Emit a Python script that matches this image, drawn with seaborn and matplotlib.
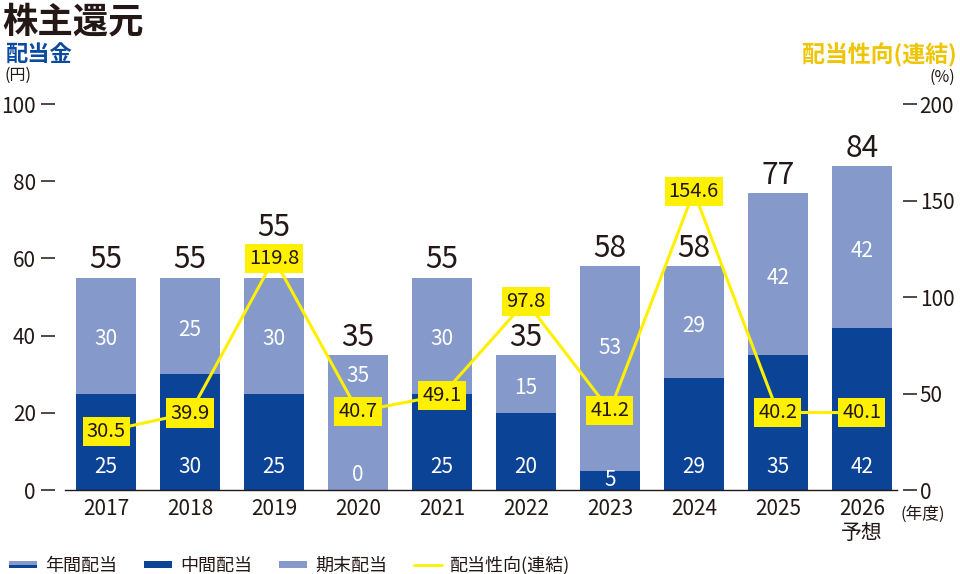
"""
株主還元 - 配当金と配当性向（連結）の推移
"""

import numpy as np
import matplotlib
matplotlib.use('Agg')
import matplotlib.pyplot as plt
import seaborn as sns
from matplotlib.patches import Rectangle
from matplotlib.lines import Line2D
from matplotlib.legend_handler import HandlerBase

# Data
years = ['2017', '2018', '2019', '2020', '2021', '2022', '2023', '2024', '2025', '2026\n予想']
interim = [25, 30, 25, 0, 25, 20, 5, 29, 35, 42]        # 中間配当
year_end = [30, 25, 30, 35, 30, 15, 53, 29, 42, 42]     # 期末配当
totals = [55, 55, 55, 35, 55, 35, 58, 58, 77, 84]       # 年間配当
payout = [30.5, 39.9, 119.8, 40.7, 49.1, 97.8, 41.2, 154.6, 40.2, 40.1]  # 配当性向(連結)
left_ticks = [0, 20, 40, 60, 80, 100]
right_ticks = [0, 50, 100, 150, 200]

# Colors
DARK = '#0b4497'
LIGHT = '#8599cb'
YELLOW = '#fff000'
HEAD_YELLOW = '#efc400'
TEXT = '#231815'

sns.set_style('white')
plt.rcParams['font.family'] = ['Noto Sans CJK JP', 'DejaVu Sans']

fig = plt.figure(figsize=(9.6, 5.74), dpi=100)
ax = fig.add_axes([0.0677, 0.1463, 0.8667, 0.6725])

# Stacked bars: full bar in light colour, interim part overdrawn in dark
sns.barplot(x=years, y=totals, color=LIGHT, saturation=1, width=0.72,
            linewidth=0, edgecolor='none', ax=ax)
sns.barplot(x=years, y=interim, color=DARK, saturation=1, width=0.72,
            linewidth=0, edgecolor='none', ax=ax)

ax.set_xlim(-0.49, 9.42)
ax.set_ylim(0, 100)
for s in ['top', 'right']:
    ax.spines[s].set_visible(False)
ax.spines['left'].set_color('none')
ax.spines['left'].set_position(('outward', 7))
ax.spines['bottom'].set_color(TEXT)
ax.spines['bottom'].set_linewidth(1.0)

ax.set_yticks(left_ticks)
ax.set_yticklabels([str(v) for v in left_ticks])
ax.tick_params(axis='y', direction='out', length=10, width=1.1, color=TEXT,
               pad=4, labelsize=15, labelcolor=TEXT, left=True)
ax.tick_params(axis='x', length=0, pad=6, labelsize=15, colors=TEXT)
for lbl in ax.get_xticklabels():
    lbl.set_linespacing(1.1)
    lbl.set_verticalalignment('top')
ax.set_xlabel('')
ax.set_ylabel('')

# Values inside bars
for i in range(len(years)):
    iy = min(6, interim[i] / 2) if interim[i] > 0 else 4
    ax.text(i, iy, str(interim[i]), ha='center', va='center', color='white', fontsize=15)
    if interim[i] == 0:
        ey = totals[i] - 5.5
    elif i == 6:
        ey = interim[i] + year_end[i] * 0.6
    else:
        ey = interim[i] + year_end[i] / 2 - 1
    ax.text(i, ey, str(year_end[i]), ha='center', va='center', color='white', fontsize=15)
    ty = totals[i] + (13 if i == 2 else 4.6)
    ax.text(i, ty, str(totals[i]), ha='center', va='center', color=TEXT, fontsize=21.5)

# Payout ratio line on right axis
ax2 = ax.twinx()
sns.lineplot(x=np.arange(len(years)), y=payout, color=YELLOW, linewidth=2.2, ax=ax2)
ax2.set_ylim(0, 200)
ax2.set_xlim(-0.49, 9.42)
for s in ['top', 'left', 'bottom']:
    ax2.spines[s].set_visible(False)
ax2.spines['right'].set_color('none')
ax2.spines['right'].set_position(('outward', 4.3))
ax2.set_yticks(right_ticks)
ax2.set_yticklabels([str(v) for v in right_ticks])
ax2.tick_params(axis='y', direction='out', length=10, width=1.1, color=TEXT,
                pad=2, labelsize=15, labelcolor=TEXT, right=True)
ax2.set_ylabel('')

for i, p in enumerate(payout):
    ax2.text(i, p, f'{p:.1f}', ha='center', va='center', color=TEXT, fontsize=14.5,
             bbox=dict(boxstyle='square,pad=0.2', facecolor=YELLOW, edgecolor='none'))

# Headings
fig.text(0.002, 0.962, '株主還元', fontsize=25.5, fontweight='bold', color=TEXT, va='center')
fig.text(0.005, 0.903, '配当金', fontsize=16, fontweight='bold', color='#0b4aa2', va='center')
fig.text(0.005, 0.868, '(円)', fontsize=11.5, color=TEXT, va='center')
fig.text(0.997, 0.903, '配当性向(連結)', fontsize=16.5, fontweight='bold', color=HEAD_YELLOW,
         va='center', ha='right')
fig.text(0.995, 0.866, '(%)', fontsize=11.5, color=TEXT, va='center', ha='right')
fig.text(0.938, 0.104, '(年度)', fontsize=12, color=TEXT, va='center')


# Legend: two-tone swatch for 年間配当
class TwoTone:
    pass


class DarkBox:
    pass


class LightBox:
    pass


class TwoToneHandler(HandlerBase):
    def create_artists(self, legend, orig_handle, xdescent, ydescent, width, height, fontsize, trans):
        h = height * 0.6
        y0 = (height - h) / 2 - ydescent
        top = Rectangle((-xdescent, y0 + h / 2), width, h / 2, facecolor=LIGHT, edgecolor='none', transform=trans)
        bot = Rectangle((-xdescent, y0), width, h / 2, facecolor=DARK, edgecolor='none', transform=trans)
        return [top, bot]


class BoxHandler(HandlerBase):
    def __init__(self, color):
        super().__init__()
        self.color = color

    def create_artists(self, legend, orig_handle, xdescent, ydescent, width, height, fontsize, trans):
        h = height * 0.6
        y0 = (height - h) / 2 - ydescent
        return [Rectangle((-xdescent, y0), width, h, facecolor=self.color, edgecolor='none', transform=trans)]


handles = [TwoTone(), DarkBox(), LightBox(), Line2D([], [], color=YELLOW, linewidth=2)]
labels = ['年間配当', '中間配当', '期末配当', '配当性向(連結)']
fig.legend(handles, labels, loc='lower left', bbox_to_anchor=(-0.008, -0.03), ncol=4, frameon=False,
           fontsize=13, handlelength=1.55, handletextpad=0.45, columnspacing=1.5,
           labelcolor=TEXT,
           handler_map={TwoTone: TwoToneHandler(), DarkBox: BoxHandler(DARK), LightBox: BoxHandler(LIGHT)})

plt.savefig('out.png', dpi=100)
